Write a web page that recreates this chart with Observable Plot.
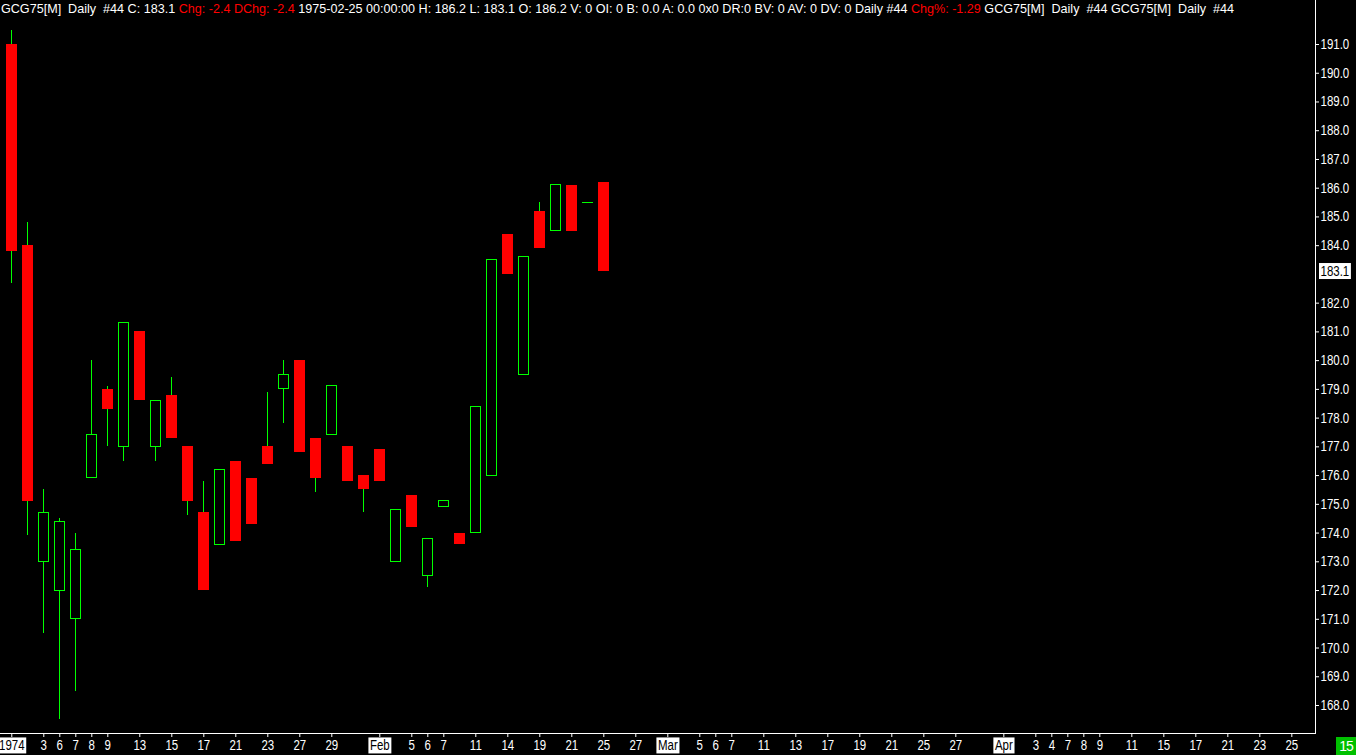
<!DOCTYPE html>
<html><head><meta charset="utf-8">
<script src="https://cdn.jsdelivr.net/npm/d3@7"></script>
<script src="https://cdn.jsdelivr.net/npm/@observablehq/plot@0.6"></script>
<style>
html,body{margin:0;padding:0;background:#000;}
#wrap{position:relative;width:1356px;height:755px;overflow:hidden;background:#000;}
#header{position:absolute;left:1px;top:1px;font-family:"Liberation Sans",Arial,sans-serif;font-size:13px;white-space:pre;color:#fff;line-height:15px;transform-origin:0 0;}
#header .red{color:#ff0000;}
#corner{position:absolute;left:1336px;top:737px;width:20px;height:18px;background:#00c000;color:#fff;font-family:"Liberation Sans",sans-serif;font-size:14px;text-align:center;line-height:18px;letter-spacing:-1px;}
</style></head>
<body><div id="wrap"><div id="chart"></div><div id="header"></div><div id="corner">15</div></div>
<script>
// ---- data ----
const symbol = "GCG75[M]";
const dates = ["1974-12-31","1975-01-02","1975-01-03","1975-01-06","1975-01-07","1975-01-08","1975-01-09","1975-01-10","1975-01-13","1975-01-14","1975-01-15","1975-01-16","1975-01-17","1975-01-20","1975-01-21","1975-01-22","1975-01-23","1975-01-24","1975-01-27","1975-01-28","1975-01-29","1975-01-30","1975-01-31","1975-02-03","1975-02-04","1975-02-05","1975-02-06","1975-02-07","1975-02-10","1975-02-11","1975-02-13","1975-02-14","1975-02-18","1975-02-19","1975-02-20","1975-02-21","1975-02-24","1975-02-25"];
const open  = [191.0,184.0,173.0,172.0,171.0,175.9,179.0,177.0,181.0,177.0,178.8,177.0,174.7,173.6,176.5,175.9,177.0,179.0,180.0,177.3,177.4,177.0,176.0,176.9,173.0,175.3,172.5,174.9,174.0,174.0,176.0,184.4,179.5,185.2,184.5,186.1,185.5,186.2];
const high  = [191.5,184.8,175.5,174.5,174.0,180.0,179.1,181.3,181.0,178.6,179.4,177.0,175.8,176.2,176.5,175.9,178.9,180.0,180.0,177.3,179.1,177.0,176.0,176.9,174.8,175.3,173.8,175.1,174.0,178.4,183.5,184.4,183.6,185.5,186.1,186.1,185.5,186.2];
const low   = [182.7,173.9,170.5,167.5,168.5,175.9,177.0,176.5,178.6,176.5,177.3,174.6,172.0,173.6,173.7,174.3,176.4,177.8,176.8,175.4,177.4,175.8,174.7,175.8,173.0,174.2,172.1,174.9,173.6,174.0,176.0,183.0,179.5,183.9,184.5,184.5,185.5,183.1];
const close = [183.8,175.1,174.7,174.4,173.4,177.4,178.3,181.3,178.6,178.6,177.3,175.1,172.0,176.2,173.7,174.3,176.4,179.5,176.8,175.9,179.1,175.8,175.5,175.8,174.8,174.2,173.8,175.1,173.6,178.4,183.5,183.0,183.6,183.9,186.1,184.5,185.5,183.1];
const xTickIdx = [0,2,3,4,5,6,8,10,12,14,16,18,20,23,25,26,27,29,31,33,35,37,39,41,43,44,45,47,49,51,53,55,57,59,62,64,65,66,67,68,70,72,74,76,78,80];
const xTickLab = ["1974","3","6","7","8","9","13","15","17","21","23","27","29","Feb","5","6","7","11","14","19","21","25","27","Mar","5","6","7","11","13","17","19","21","25","27","Apr","3","4","7","8","9","11","15","17","21","23","25"];
const yTicks = [168,169,170,171,172,173,174,175,176,177,178,179,180,181,182,184,185,186,187,188,189,190,191];
const boxedLabels = ["1974","Feb","Mar","Apr"];

// ---- build ----
const bars = open.map((o,i)=>({i, date:dates[i], o, h:high[i], l:low[i], c:close[i]}));
const up = bars.filter(d=>d.c>d.o), dn = bars.filter(d=>d.c<d.o), flat = bars.filter(d=>d.c===d.o);
const labMap = new Map(xTickIdx.map((d,k)=>[d,xTickLab[k]]));
const last = bars[bars.length-1], prev = bars[bars.length-2];
const chg = last.c - prev.c, pct = chg/prev.c*100;
const lastLabel = last.c.toFixed(1);

const xDomain = [-0.706, 81.48];
const plot = Plot.plot({
  width:1356, height:755, marginLeft:0, marginRight:41, marginTop:0, marginBottom:22,
  style:{background:"#000", color:"#fff", fontFamily:'"Liberation Sans",Arial,sans-serif', fontSize:"14px"},
  x:{type:"linear", domain:xDomain, ticks:xTickIdx, tickFormat:d=>labMap.get(d), tickSize:4, tickPadding:3, line:true, label:null},
  y:{domain:[167.026,192.531], axis:"right", ticks:yTicks, tickFormat:d=>d.toFixed(1), tickSize:3, tickPadding:2, line:true, label:null},
  marks:[
    Plot.ruleX(bars,{x:"i", y1:"l", y2:"h", stroke:"#00ff00", strokeWidth:1, shapeRendering:"crispEdges"}),
    Plot.rect(dn,{x1:d=>d.i-0.34, x2:d=>d.i+0.34, y1:"o", y2:"c", fill:"#ff0000", shapeRendering:"crispEdges"}),
    Plot.rect(up,{x1:d=>d.i-0.31, x2:d=>d.i+0.31, y1:"o", y2:"c", fill:"#000", stroke:"#00ff00", strokeWidth:1, shapeRendering:"crispEdges"}),
    Plot.ruleY(flat,{y:"c", x1:d=>d.i-0.34, x2:d=>d.i+0.34, stroke:"#00ff00", shapeRendering:"crispEdges"}),
    Plot.text([last.c],{y:d=>d, frameAnchor:"right", dx:5, textAnchor:"start", text:d=>d.toFixed(1), fill:"#000"})
  ]
});
document.getElementById("chart").appendChild(plot);

// condense the axis texts (narrow, tall glyphs as in the reference)
function condense(t, s){
  try {
    const L = t.getComputedTextLength();
    if (L > 0) {
      t.setAttribute("textLength", (L*s).toFixed(2));
      t.setAttribute("lengthAdjust", "spacingAndGlyphs");
    }
  } catch(e) {}
}
// white boxes behind month / price labels
function boxBehind(t, padX){
  const b = t.getBBox();
  const r = document.createElementNS("http://www.w3.org/2000/svg","rect");
  r.setAttribute("x", b.x-padX); r.setAttribute("y", b.y);
  r.setAttribute("width", b.width+2*padX); r.setAttribute("height", b.height);
  r.setAttribute("fill","#fff");
  const tr = t.getAttribute("transform"); if (tr) r.setAttribute("transform", tr);
  t.parentNode.insertBefore(r, t);
  t.setAttribute("fill","#000");
}
const texts = Array.from(plot.querySelectorAll("text"));
texts.forEach(t=>condense(t, 0.82));
texts.forEach(t=>{
  const s = t.textContent;
  if (boxedLabels.includes(s)) boxBehind(t, 1.5);
  else if (s === lastLabel) boxBehind(t, 1.5);
});

// header line
const hdr = document.getElementById("header");
const parts = [
  [`${symbol}  Daily  #44 C: ${last.c.toFixed(1)} `, ""],
  [`Chg: ${chg.toFixed(1)} DChg: ${chg.toFixed(1)}`, "red"],
  ` ${last.date} 00:00:00 H: ${last.h.toFixed(1)} L: ${last.l.toFixed(1)} O: ${last.o.toFixed(1)} V: 0 OI: 0 B: 0.0 A: 0.0 0x0 DR:0 BV: 0 AV: 0 DV: 0 Daily #44 `,
  [`Chg%: ${pct.toFixed(2)}`, "red"],
  ` ${symbol}  Daily  #44 ${symbol}  Daily  #44`
];
parts.forEach(p=>{
  const sp = document.createElement("span");
  if (Array.isArray(p)) { sp.textContent = p[0]; if (p[1]) sp.className = p[1]; } else sp.textContent = p;
  hdr.appendChild(sp);
});
const hw = hdr.getBoundingClientRect().width;
hdr.style.transform = `scale(${1233/hw},1)`;
</script>
</body></html>
